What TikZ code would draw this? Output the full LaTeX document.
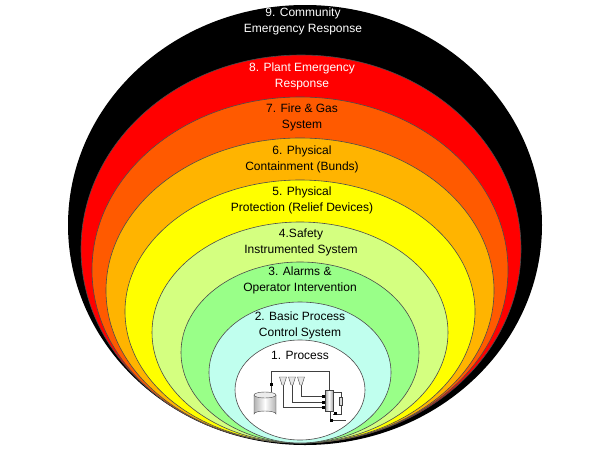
\documentclass[tikz,border=0pt]{standalone}
\usepackage{fontspec}
\setmainfont{Liberation Sans}
\usetikzlibrary{positioning}
\definecolor{lay9}{HTML}{000000}
\definecolor{lay8}{HTML}{FF0000}
\definecolor{lay7}{HTML}{FF5A00}
\definecolor{lay6}{HTML}{FFB400}
\definecolor{lay5}{HTML}{FFFF00}
\definecolor{lay4}{HTML}{D4FF80}
\definecolor{lay3}{HTML}{99FF88}
\definecolor{lay2}{HTML}{C0FFEE}
\definecolor{lay1}{HTML}{FFFFFF}
\tikzset{
  layer/.style={draw=black!70, line width=0.6pt},
  laytext/.style={align=center, font=\fontsize{12}{16}\selectfont, inner sep=0pt},
  pipe/.style={draw=black!75, line width=0.8pt},
  valve/.style={fill=black, minimum size=3pt, inner sep=0pt}
}
\begin{document}
\begin{tikzpicture}[x=1pt,y=-1pt]
\useasboundingbox (0,0) rectangle (602,455);

% Draw the layers, outside in
\fill[lay9] (305,225) ellipse [x radius=237, y radius=220];
\draw[layer, fill=lay8] (301,249) ellipse [x radius=220, y radius=194];
\draw[layer, fill=lay7] (300,270) ellipse [x radius=208, y radius=173];
\draw[layer, fill=lay6] (300,290.5) ellipse [x radius=194, y radius=152.5];
\draw[layer, fill=lay5] (300,311.5) ellipse [x radius=175, y radius=131.5];
\draw[layer, fill=lay4] (300,332.5) ellipse [x radius=148, y radius=110.5];
\draw[layer, fill=lay3] (300,352.5) ellipse [x radius=119, y radius=90.5];
\draw[layer, fill=lay2] (300,372.5) ellipse [x radius=91, y radius=70.5];
\draw[layer, fill=lay1] (300,390) ellipse [x radius=65, y radius=50];

% Labels
\node[laytext, white] (l9) at (303,21) {9. Community\\Emergency Response};
\node[laytext, white] (l8) at (302,76) {8. Plant Emergency\\Response};
\node[laytext] (l7) at (302,117) {7. Fire \& Gas\\System};
\node[laytext] (l6) at (302,159) {6. Physical\\Containment (Bunds)};
\node[laytext] (l5) at (302,200) {5. Physical\\Protection (Relief Devices)};
\node[laytext] (l4) at (301,242) {4.Safety\\Instrumented System};
\node[laytext] (l3) at (300,280) {3. Alarms \&\\Operator Intervention};
\node[laytext] (l2) at (300,325) {2. Basic Process\\Control System};
\node[laytext] (l1) at (300,355) {1. Process};

% Process icon
\draw[pipe] (271,392) -- (271,371) -- (329,371) -- (329,390);
\foreach \fx/\fy in {283/407, 292/402, 301/396} {
  \draw[pipe] (\fx,385) -- (\fx,\fy) -- (325,\fy);
  \draw[black!75, fill=gray!20] (\fx-3.5,377) -- (\fx+3.5,377) -- (\fx+1,385) -- (\fx-1,385) -- cycle;
  \node[valve] at (323,\fy) {};
}
\draw[pipe] (333,392) -- (341,392) -- (341,414) -- (333,414);
\draw[black!75, fill=gray!30] (339.5,397) rectangle (342.5,405);
\draw[pipe] (330,410) -- (330,420) -- (346,420);
\node[valve] at (271,384) {};
\node[valve] at (335,413) {};
\node[valve] at (331,420) {};
\draw[black!75, left color=gray!70, right color=gray!70, middle color=white] (325,390) rectangle (333,411);
\draw[black!75, left color=gray!60, right color=gray!60, middle color=white] (254,395) -- (254,414) arc[start angle=180, end angle=360, x radius=11, y radius=3] -- (276,395);
\draw[black!75, fill=gray!15] (265,395) ellipse [x radius=11, y radius=3];
\end{tikzpicture}
\end{document}
